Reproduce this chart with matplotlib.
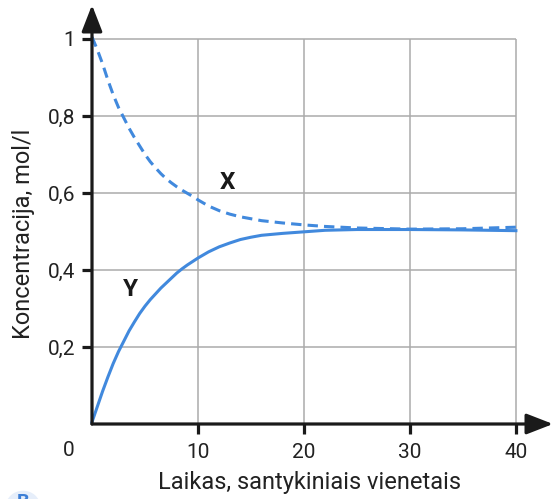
import matplotlib
matplotlib.use("Agg")
import matplotlib.pyplot as plt
from matplotlib.patches import Circle

plt.rcParams['font.family'] = ['Roboto', 'DejaVu Sans']

# Data
t = [0, 0.5, 1, 1.5, 2, 2.5, 3, 3.5, 4, 4.5, 5, 5.5, 6, 6.5, 7, 7.5, 8, 8.5, 9, 9.5,
     10, 11, 12, 13, 14, 15, 16, 18, 20, 22, 25, 30, 35, 40]
x_conc = [1.005, 0.972, 0.935, 0.893, 0.855, 0.822, 0.795, 0.768, 0.744, 0.722,
          0.700, 0.681, 0.665, 0.650, 0.637, 0.626, 0.616, 0.607, 0.599, 0.591,
          0.582, 0.566, 0.554, 0.545, 0.538, 0.533, 0.528, 0.522, 0.517, 0.513,
          0.509, 0.506, 0.507, 0.511]
y_conc = [0.005, 0.045, 0.085, 0.122, 0.157, 0.188, 0.215, 0.242, 0.265, 0.287,
          0.306, 0.323, 0.338, 0.353, 0.366, 0.379, 0.392, 0.403, 0.413, 0.422,
          0.431, 0.447, 0.460, 0.470, 0.479, 0.485, 0.490, 0.495, 0.499, 0.503,
          0.505, 0.505, 0.504, 0.502]

xticks = [10, 20, 30, 40]
xtick_labels = ["10", "20", "30", "40"]
yticks = [0.2, 0.4, 0.6, 0.8, 1.0]
ytick_labels = ["0,2", "0,4", "0,6", "0,8", "1"]

W, H = 555, 499
fig = plt.figure(figsize=(W / 100, H / 100), dpi=100)
# axes: x 0..43.5 from px 92 to 553; y 0..1.088 from px 424 to 5
x0, x1, y0, y1 = 92, 553, 424, 5
ax = fig.add_axes([x0 / W, (H - y0) / H, (x1 - x0) / W, (y0 - y1) / H])
ax.set_xlim(0, 43.5)
ax.set_ylim(0, 1.088)
for s in ax.spines.values():
    s.set_visible(False)

grid_c = '#ababab'
ax.hlines(yticks, 0, 40, color=grid_c, lw=1.1, zorder=1)
ax.vlines(xticks, 0, 1.0, color=grid_c, lw=1.1, zorder=1)

blue = '#4189DD'
ax.plot(t, x_conc, color=blue, lw=2.2, ls=(0, (3.4, 2.0)), zorder=3, clip_on=False)
ax.plot(t, y_conc, color=blue, lw=2.2, zorder=3, clip_on=False)

# axes with arrows
arrow_kw = dict(arrowstyle='-|>,head_length=0.9,head_width=0.35', color='#1a1a1a', lw=2.3,
                shrinkA=0, shrinkB=0, mutation_scale=18)
ax.annotate('', xy=(1, 0), xytext=(0, 0), xycoords='axes fraction',
            arrowprops=arrow_kw, zorder=5)
ax.annotate('', xy=(0, 1), xytext=(0, 0), xycoords='axes fraction',
            arrowprops=arrow_kw, zorder=5)

ax.set_xticks(xticks)
ax.set_xticklabels(xtick_labels)
ax.set_yticks(yticks)
ax.set_yticklabels(ytick_labels)
ax.tick_params(axis='both', length=7.5, width=2.3, color='#1a1a1a', labelsize=15,
               labelcolor='#222222', pad=4.5)
ax.tick_params(axis='x', pad=6)

ax.text(-2.2, -0.045, "0", ha='center', va='top', fontsize=15, color='#222222')

ax.text(12.8, 0.628, "X", fontsize=17.5, fontweight='bold', color='#1a1a1a',
        ha='center', va='center')
ax.text(3.6, 0.348, "Y", fontsize=17.5, fontweight='bold', color='#1a1a1a',
        ha='center', va='center')

fig.text(310 / W, 1 - 482 / H, "Laikas, santykiniais vienetais", ha='center', va='center',
         fontsize=17, color='#222222')
fig.text(24 / W, 1 - 234 / H, "Koncentracija, mol/l", ha='center', va='center',
         rotation=90, fontsize=17, color='#222222')

# partial badge at bottom-left
circ = Circle((23 / W, 1 - 506 / H), 17 / W, transform=fig.transFigure,
              facecolor='#e6eefa', edgecolor='none')
fig.patches.append(circ)
fig.text(23 / W, 1 - 502 / H, "B", ha='center', va='center', fontsize=14,
         fontweight='bold', color='#3d7fd6')

fig.savefig("out.png", dpi=100)
